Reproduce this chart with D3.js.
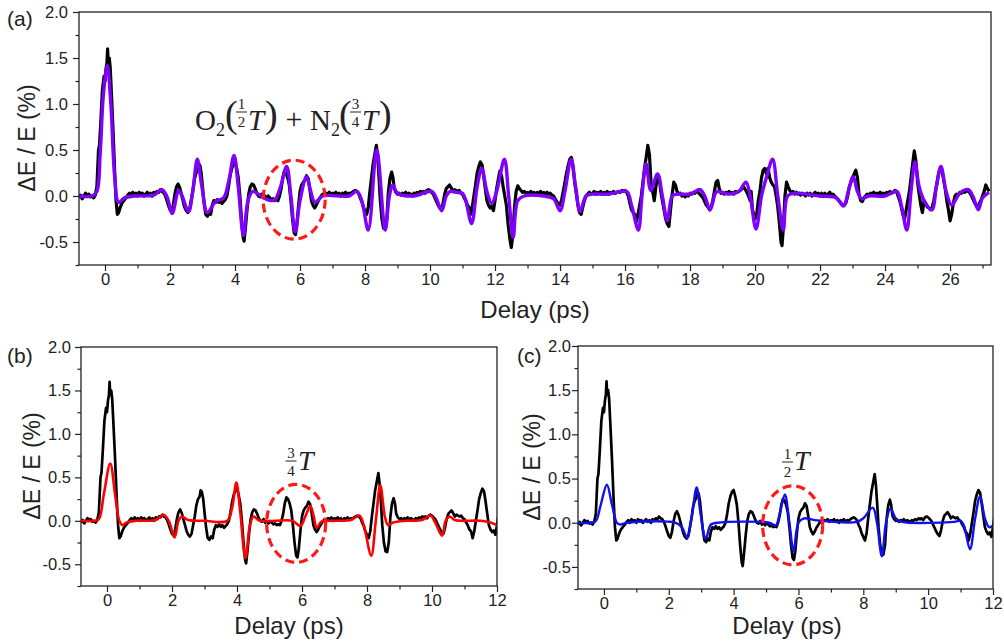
<!DOCTYPE html>
<html><head><meta charset="utf-8">
<script src="https://cdn.jsdelivr.net/npm/d3@7"></script>
<style>body{margin:0;background:#fff}svg{display:block}</style>
</head><body>
<svg id="chart" width="1004" height="642"></svg>
<script>
// ---------------- DATA ----------------
const yMajorTicks = [-0.5, 0, 0.5, 1.0, 1.5, 2.0];
const yTickLabels = ["-0.5", "0.0", "0.5", "1.0", "1.5", "2.0"];
const yMinorTicks = [-0.75, -0.25, 0.25, 0.75, 1.25, 1.75];
const xMajorTicksA = [0, 2, 4, 6, 8, 10, 12, 14, 16, 18, 20, 22, 24, 26];
const xMinorTicksA = [1, 3, 5, 7, 9, 11, 13, 15, 17, 19, 21, 23, 25, 27];
const xMajorTicksBC = [0, 2, 4, 6, 8, 10, 12];
const xMinorTicksBC = [1, 3, 5, 7, 9, 11];
const panelLabels = ["(a)", "(b)", "(c)"];
const xTitle = "Delay (ps)";
const yTitle = "\u0394E / E (%)";

// measured signal (black)
const experiment = [
[-0.8,-0.02],[-0.75,0.01],[-0.7,-0.03],[-0.65,0.0],[-0.6,0.03],[-0.55,0.01],[-0.5,0.02],[-0.45,-0.01],[-0.4,0.0],[-0.35,-0.02],[-0.3,0.01],
[-0.25,0.1],[-0.2,0.5],[-0.17,0.55],[-0.13,0.8],[-0.08,1.15],[-0.03,1.3],[0.0,1.25],[0.03,1.38],[0.06,1.45],[0.08,1.6],[0.1,1.45],[0.13,1.5],[0.16,1.4],[0.2,1.1],[0.25,0.7],[0.3,0.25],[0.34,-0.05],[0.38,-0.2],[0.42,-0.18],[0.47,-0.12],[0.52,-0.08],[0.58,-0.05],[0.65,-0.02],
[0.7,0.01],[0.75,0.03],[0.8,0.0],[0.85,0.04],[0.9,0.02],[0.95,0.03],[1.0,0.0],[1.05,0.04],[1.1,0.02],[1.15,0.03],[1.2,0.0],[1.25,0.02],[1.3,0.04],[1.35,0.01],[1.4,0.03],[1.45,0.0],[1.5,0.04],[1.55,0.02],[1.6,0.05],[1.65,0.04],[1.7,0.07],[1.75,0.05],[1.8,0.04],[1.85,0.01],
[1.9,-0.04],[1.95,-0.1],[2.0,-0.15],[2.05,-0.17],[2.1,-0.1],[2.15,0.02],[2.2,0.1],[2.25,0.13],[2.3,0.09],[2.35,0.02],[2.4,-0.05],[2.45,-0.12],[2.5,-0.16],[2.55,-0.18],[2.6,-0.15],[2.65,-0.05],[2.7,0.05],[2.75,0.18],[2.8,0.25],[2.85,0.28],[2.88,0.35],[2.92,0.33],[2.96,0.25],[3.0,0.1],[3.05,-0.08],[3.1,-0.2],[3.15,-0.22],[3.2,-0.18],[3.25,-0.2],[3.3,-0.1],[3.35,-0.05],[3.4,-0.07],[3.45,-0.04],[3.5,-0.07],[3.55,-0.05],[3.6,-0.08],[3.65,-0.06],[3.7,-0.04],[3.75,0.0],
[3.8,0.1],[3.85,0.22],[3.9,0.3],[3.95,0.35],[4.0,0.37],[4.05,0.3],[4.1,0.2],[4.15,0.0],[4.2,-0.25],[4.25,-0.45],[4.28,-0.49],[4.32,-0.35],[4.37,-0.15],[4.42,0.02],[4.47,0.1],[4.52,0.13],[4.57,0.12],[4.62,0.08],[4.67,0.03],[4.72,0.0],[4.77,-0.01],[4.82,0.02],[4.87,-0.02],[4.92,0.0],[4.97,-0.03],[5.02,0.0],[5.07,-0.02],[5.12,-0.04],[5.17,-0.03],[5.22,-0.05],[5.27,-0.04],[5.32,-0.05],
[5.37,0.0],[5.42,0.08],[5.47,0.2],[5.52,0.27],[5.57,0.25],[5.62,0.2],[5.67,0.12],[5.72,-0.05],[5.77,-0.25],[5.82,-0.4],[5.86,-0.42],[5.9,-0.33],[5.95,-0.12],[6.0,0.05],[6.05,0.12],[6.1,0.15],[6.15,0.17],[6.2,0.22],[6.25,0.19],[6.3,0.08],[6.35,-0.05],[6.4,-0.1],[6.45,-0.13],[6.5,-0.1],[6.55,-0.06],[6.6,-0.03],[6.65,0.0],
[6.7,0.02],[6.75,0.01],[6.8,0.03],[6.85,0.02],[6.9,0.04],[6.95,0.01],[7.0,0.03],[7.05,0.02],[7.1,0.04],[7.15,0.01],[7.2,0.03],[7.25,0.0],[7.3,0.03],[7.35,0.02],[7.4,0.04],[7.45,0.01],[7.5,0.03],[7.55,0.02],[7.6,0.04],[7.65,0.05],[7.7,0.06],[7.75,0.05],[7.8,0.03],
[7.85,-0.02],[7.9,-0.06],[7.95,-0.12],[8.0,-0.16],[8.05,-0.2],[8.1,-0.12],[8.15,0.05],[8.2,0.2],[8.25,0.35],[8.3,0.45],[8.35,0.55],[8.39,0.42],[8.43,0.2],[8.47,-0.05],[8.52,-0.25],[8.57,-0.35],[8.62,-0.36],[8.67,-0.25],[8.72,0.05],[8.77,0.2],[8.82,0.26],[8.86,0.2],[8.9,0.08],[8.95,0.04],
[9.0,0.02],[9.05,0.03],[9.1,0.01],[9.15,0.03],[9.2,0.02],[9.25,0.04],[9.3,0.01],[9.35,0.03],[9.4,0.02],[9.45,0.0],[9.5,0.03],[9.55,0.02],[9.6,0.04],[9.65,0.03],[9.7,0.05],[9.75,0.04],[9.8,0.05],[9.85,0.03],[9.9,0.06],[9.95,0.07],[10.0,0.06],[10.05,0.04],[10.1,0.02],
[10.15,-0.02],[10.2,-0.06],[10.25,-0.1],[10.3,-0.13],[10.35,-0.15],[10.4,-0.08],[10.45,0.02],[10.5,0.08],[10.55,0.1],[10.6,0.12],[10.65,0.09],[10.7,0.05],[10.75,0.07],[10.8,0.06],[10.85,0.05],[10.9,0.06],[10.95,0.03],[11.0,0.02],
[11.05,-0.02],[11.1,-0.05],[11.15,-0.1],[11.2,-0.12],[11.25,-0.2],[11.3,-0.12],[11.35,0.0],[11.4,0.12],[11.45,0.25],[11.5,0.32],[11.55,0.37],[11.6,0.34],[11.65,0.22],[11.7,0.08],[11.75,-0.05],[11.8,-0.1],[11.85,-0.13],[11.9,-0.11],[11.95,-0.16],
[12.0,-0.05],[12.05,0.08],[12.1,0.18],[12.15,0.27],[12.2,0.22],[12.25,0.1],[12.3,0.0],[12.35,-0.1],[12.4,-0.3],[12.45,-0.45],[12.5,-0.56],[12.55,-0.42],[12.6,-0.12],[12.65,0.05],[12.7,0.11],[12.75,0.08],[12.8,0.06],[12.85,0.04],[12.9,0.05],[12.95,0.03],
[13.0,0.04],[13.05,0.02],[13.1,0.05],[13.15,0.03],[13.2,0.04],[13.25,0.01],[13.3,0.04],[13.35,0.02],[13.4,0.05],[13.45,0.03],[13.5,0.04],[13.55,0.02],[13.6,0.04],[13.65,0.02],[13.7,0.03],[13.75,0.01],
[13.8,0.0],[13.85,-0.03],[13.9,-0.06],[13.95,-0.09],[14.0,-0.1],[14.05,-0.04],[14.1,0.05],[14.15,0.15],[14.2,0.25],[14.25,0.33],[14.3,0.4],[14.35,0.42],[14.4,0.32],[14.45,0.15],[14.5,0.03],[14.55,-0.1],[14.6,-0.18],[14.65,-0.2],[14.7,-0.12],[14.75,-0.05],[14.8,0.0],
[14.85,0.02],[14.9,0.04],[14.95,0.02],[15.0,0.03],[15.05,0.05],[15.1,0.02],[15.15,0.04],[15.2,0.03],[15.25,0.05],[15.3,0.02],[15.35,0.04],[15.4,0.03],[15.45,0.05],[15.5,0.02],[15.55,0.04],[15.6,0.03],[15.65,0.05],[15.7,0.03],[15.75,0.04],[15.8,0.05],[15.85,0.04],[15.9,0.06],[15.95,0.05],[16.0,0.06],[16.05,0.04],
[16.1,0.0],[16.15,-0.08],[16.2,-0.15],[16.25,-0.18],[16.3,-0.2],[16.35,-0.28],[16.4,-0.2],[16.45,-0.1],[16.5,0.0],[16.55,0.15],[16.6,0.3],[16.65,0.42],[16.7,0.55],[16.75,0.45],[16.8,0.15],[16.85,0.05],[16.9,-0.05],[16.95,0.1],[17.0,0.22],[17.05,0.2],[17.1,0.05],[17.15,-0.05],[17.2,-0.15],[17.25,-0.25],[17.3,-0.3],[17.35,-0.33],[17.4,-0.15],[17.45,0.02],[17.5,0.15],[17.55,0.12],[17.6,0.05],
[17.65,0.02],[17.7,0.03],[17.75,0.0],[17.8,0.02],[17.85,-0.01],[17.9,0.02],[17.95,0.0],[18.0,0.03],[18.05,0.02],[18.1,0.04],[18.15,0.03],[18.2,0.05],[18.25,0.04],[18.3,0.02],[18.35,0.0],
[18.4,-0.02],[18.45,-0.06],[18.5,-0.1],[18.55,-0.12],[18.6,-0.15],[18.65,-0.12],[18.7,-0.05],[18.75,0.05],[18.8,0.15],[18.85,0.17],[18.9,0.08],[18.95,0.03],
[19.0,0.04],[19.05,0.02],[19.1,0.04],[19.15,0.03],[19.2,0.05],[19.25,0.03],[19.3,0.04],[19.35,0.02],[19.4,0.05],[19.45,0.04],[19.5,0.05],[19.55,0.06],[19.6,0.08],[19.65,0.1],[19.7,0.07],[19.75,0.04],
[19.8,0.0],[19.85,-0.05],[19.88,0.05],[19.92,-0.15],[19.96,-0.2],[20.0,-0.25],[20.05,-0.2],[20.1,-0.05],[20.15,0.05],[20.2,0.2],[20.25,0.28],[20.3,0.3],[20.35,0.24],[20.4,0.3],[20.45,0.2],[20.5,0.15],[20.55,0.12],[20.6,0.1],[20.65,0.0],[20.7,-0.12],[20.75,-0.3],[20.8,-0.5],[20.83,-0.54],[20.87,-0.35],[20.92,0.0],[20.97,0.15],[21.02,0.1],[21.07,0.06],
[21.12,0.04],[21.17,0.05],[21.22,0.02],[21.27,0.04],[21.32,0.02],[21.37,0.03],[21.4,0.01],[21.45,0.03],[21.5,0.02],[21.55,0.0],[21.6,0.03],[21.65,0.01],[21.7,0.03],[21.75,0.0],[21.8,0.02],[21.85,0.04],[21.9,0.01],[21.95,0.03],[22.0,0.0],[22.05,0.03],[22.1,0.01],[22.15,0.03],[22.2,0.0],[22.25,0.02],[22.3,0.04],[22.35,0.01],[22.4,0.02],[22.45,0.0],
[22.5,-0.02],[22.55,-0.04],[22.6,-0.06],[22.65,-0.08],[22.7,-0.1],[22.75,-0.1],[22.8,-0.07],[22.85,0.0],[22.9,0.1],[22.95,0.15],[23.0,0.2],[23.05,0.24],[23.1,0.28],[23.15,0.2],[23.2,0.02],[23.25,-0.05],[23.3,-0.06],[23.35,-0.02],
[23.4,0.0],[23.45,0.02],[23.5,0.01],[23.55,0.03],[23.6,0.02],[23.65,0.04],[23.7,0.01],[23.75,0.03],[23.8,0.02],[23.85,0.04],[23.9,0.02],[23.95,0.03],[24.0,0.01],[24.05,0.04],[24.1,0.03],[24.15,0.05],[24.2,0.03],[24.25,0.04],[24.3,0.06],[24.35,0.05],
[24.4,0.0],[24.45,-0.05],[24.5,-0.12],[24.55,-0.2],[24.6,-0.25],[24.65,-0.15],[24.7,-0.05],[24.75,0.05],[24.8,0.2],[24.85,0.35],[24.9,0.49],[24.95,0.38],[25.0,0.15],[25.05,0.02],[25.1,-0.1],[25.15,-0.18],[25.2,-0.05],[25.25,-0.08],[25.3,-0.12],[25.35,-0.13],[25.4,-0.15],[25.45,-0.12],[25.5,-0.05],
[25.55,0.05],[25.6,0.15],[25.65,0.25],[25.7,0.3],[25.75,0.28],[25.8,0.18],[25.85,0.08],[25.9,-0.05],[25.95,-0.15],[26.0,-0.27],[26.05,-0.2],[26.1,-0.08],[26.15,0.0],[26.2,0.02],[26.25,0.01],[26.3,0.04],[26.35,0.03],[26.4,0.05],[26.45,0.04],[26.5,0.06],[26.55,0.05],[26.6,0.04],[26.65,0.01],
[26.7,-0.03],[26.75,-0.07],[26.8,-0.1],[26.85,-0.12],[26.9,-0.08],[26.95,-0.05],[27.0,0.0],[27.05,0.05],[27.1,0.12],[27.15,0.08],[27.2,0.05]
];

// O2(1/2 T) + N2(3/4 T) fit (purple)
const fitCombined = [
[-0.8,0],[-0.4,0],[-0.25,0.05],[-0.15,0.45],[-0.05,1.1],[0.07,1.42],[0.18,1.0],[0.3,0.2],[0.42,-0.07],[0.6,-0.02],[0.9,0.0],[1.5,0.01],[1.75,0.07],[1.9,0.0],[2.07,-0.19],[2.26,0.06],[2.35,0.02],[2.57,-0.17],[2.7,0.05],[2.84,0.40],[2.98,0.1],[3.15,-0.18],[3.4,-0.06],[3.65,-0.02],[3.8,0.15],[3.97,0.44],[4.1,0.1],[4.26,-0.43],[4.4,-0.05],[4.55,0.05],[4.8,0.0],[5.1,-0.05],[5.23,-0.04],[5.4,0.1],[5.59,0.32],[5.72,0.0],[5.85,-0.39],[6.0,-0.05],[6.2,0.21],[6.33,0.05],[6.46,-0.07],[6.7,0.0],[7.5,0.0],[7.75,0.05],[7.9,-0.05],[8.1,-0.37],[8.36,0.5],[8.62,-0.37],[8.75,0.0],[8.85,0.12],[9.0,0.03],[9.5,0.0],[10.05,0.05],[10.2,-0.03],[10.36,-0.16],[10.5,0.0],[10.62,0.05],[10.8,0.04],[11.0,0.03],[11.1,-0.05],[11.28,-0.3],[11.45,0.1],[11.59,0.3],[11.75,0.05],[11.9,-0.08],[12.05,0.05],[12.29,0.4],[12.42,0.0],[12.56,-0.45],[12.7,-0.05],[12.9,0.0],[13.5,0.0],[13.8,-0.03],[14.0,-0.16],[14.15,0.05],[14.34,0.4],[14.48,0.1],[14.62,-0.17],[14.8,0.0],[15.0,0.02],[15.5,0.02],[16.05,0.05],[16.2,-0.1],[16.41,-0.37],[16.52,0.0],[16.65,0.35],[16.79,0.06],[17.0,0.24],[17.15,0.0],[17.3,-0.27],[17.45,0.0],[17.6,0.02],[18.0,0.02],[18.31,0.07],[18.45,0.0],[18.62,-0.15],[18.78,0.03],[18.85,0.05],[19.2,0.02],[19.5,0.05],[19.72,0.15],[19.85,0.0],[20.03,-0.36],[20.2,0.0],[20.35,0.2],[20.54,0.4],[20.7,0.0],[20.87,-0.37],[21.0,0.0],[21.2,0.03],[22.0,0.0],[22.5,-0.02],[22.72,-0.11],[22.87,0.05],[23.02,0.21],[23.15,0.05],[23.28,-0.03],[23.5,0.0],[24.0,0.0],[24.36,0.05],[24.5,-0.1],[24.67,-0.37],[24.8,0.05],[24.92,0.37],[25.05,0.1],[25.2,-0.05],[25.44,-0.15],[25.58,0.1],[25.72,0.32],[25.88,0.05],[26.05,-0.1],[26.3,0.03],[26.56,0.07],[26.7,0.0],[26.87,-0.15],[27.0,-0.02],[27.2,0.04]
];

// N2 (3/4 T) fit (red)
const fitN2 = [
[-0.8,0.0],[-0.4,0.0],[-0.25,0.02],[-0.1,0.3],[0.1,0.66],[0.25,0.3],[0.38,0.0],[0.48,-0.05],[0.6,-0.02],[0.9,0.0],[1.5,0.01],[1.74,0.07],[1.9,0.0],[2.08,-0.19],[2.2,0.0],[2.3,0.05],[2.5,0.01],[3.0,0.0],[3.7,0.0],[3.85,0.15],[3.98,0.44],[4.1,0.1],[4.26,-0.43],[4.4,-0.05],[4.51,0.05],[4.7,0.0],[5.7,0.0],[5.95,-0.06],[6.1,0.05],[6.26,0.17],[6.36,0.05],[6.45,-0.08],[6.6,-0.01],[7.0,0.0],[7.5,0.01],[7.77,0.06],[7.9,-0.05],[8.13,-0.4],[8.27,0.0],[8.41,0.41],[8.55,0.05],[8.65,-0.05],[8.8,-0.02],[9.2,0.0],[9.7,0.01],[9.95,0.06],[10.1,-0.02],[10.31,-0.17],[10.42,0.0],[10.54,0.05],[10.7,0.01],[11.5,0.0],[11.8,-0.02],[12.0,-0.05]
];

// O2 (1/2 T) fit (blue)
const fitO2 = [
[-0.8,0.0],[-0.4,0.0],[-0.25,0.02],[-0.1,0.2],[0.09,0.43],[0.25,0.2],[0.4,0.0],[0.5,-0.02],[0.7,0.0],[2.2,0.0],[2.4,-0.05],[2.57,-0.17],[2.7,0.05],[2.86,0.4],[2.98,0.1],[3.14,-0.18],[3.3,-0.02],[3.5,0.0],[5.1,0.0],[5.3,-0.03],[5.42,0.1],[5.58,0.32],[5.72,0.0],[5.85,-0.32],[6.0,0.0],[6.18,0.05],[6.5,0.03],[7.8,0.01],[8.0,0.05],[8.29,0.17],[8.42,0.0],[8.57,-0.38],[8.7,0.0],[8.84,0.16],[9.0,0.05],[9.2,0.01],[10.8,0.01],[11.0,0.02],[11.1,-0.03],[11.29,-0.3],[11.45,0.05],[11.6,0.3],[11.75,0.05],[11.88,-0.05],[12.0,-0.03]
];

// ---------------- DRAW ----------------
const svg = d3.select("#chart");
const FONT = "'Liberation Sans', Arial, sans-serif";
const SERIF = "'Liberation Serif', 'DejaVu Serif', serif";

function drawPanel(o) {
  const x = d3.scaleLinear().domain(o.xDomain).range([o.left, o.right]);
  const y = d3.scaleLinear().domain([-0.75, 2.0]).range([o.bottom, o.top]);
  const g = svg.append("g");
  const clipId = "clip" + o.id;
  svg.append("clipPath").attr("id", clipId).append("rect")
    .attr("x", o.left).attr("y", o.top).attr("width", o.right - o.left).attr("height", o.bottom - o.top);

  const styleAxis = sel => {
    sel.select(".domain").remove();
    sel.selectAll("line").attr("stroke", "#222").attr("stroke-width", 1.2);
    sel.selectAll("text").attr("font-family", FONT).attr("font-size", 16.5).attr("fill", "#222");
  };
  g.append("g").attr("transform", `translate(0,${o.bottom})`)
    .call(d3.axisBottom(x).tickValues(o.xMajor).tickSize(6).tickPadding(2).tickFormat(d3.format("d"))).call(styleAxis);
  g.append("g").attr("transform", `translate(0,${o.bottom})`)
    .call(d3.axisBottom(x).tickValues(o.xMinor).tickSize(3.5).tickFormat("")).call(styleAxis);
  g.append("g").attr("transform", `translate(${o.left},0)`)
    .call(d3.axisLeft(y).tickValues(yMajorTicks).tickSize(6).tickPadding(o.yPad).tickFormat((d, i) => yTickLabels[i])).call(styleAxis);
  g.append("g").attr("transform", `translate(${o.left},0)`)
    .call(d3.axisLeft(y).tickValues(yMinorTicks).tickSize(3.5).tickFormat("")).call(styleAxis);

  const lineLinear = d3.line().x(d => x(d[0])).y(d => y(d[1]));
  const lineSmooth = d3.line().x(d => x(d[0])).y(d => y(d[1])).curve(d3.curveCatmullRom.alpha(0.5));
  const plot = g.append("g").attr("clip-path", `url(#${clipId})`);
  const expVisible = experiment.filter(d => d[0] >= o.xDomain[0] - 0.1 && d[0] <= o.xDomain[1] + 0.1);
  plot.append("path").datum(expVisible).attr("d", lineLinear)
    .attr("fill", "none").attr("stroke", "#000").attr("stroke-width", o.blackWidth).attr("stroke-linejoin", "round");
  plot.append("path").datum(o.fit).attr("d", lineSmooth)
    .attr("fill", "none").attr("stroke", o.fitColor).attr("stroke-width", o.fitWidth).attr("stroke-linejoin", "round");

  g.append("rect").attr("x", o.left).attr("y", o.top).attr("width", o.right - o.left).attr("height", o.bottom - o.top)
    .attr("fill", "none").attr("stroke", "#222").attr("stroke-width", 1.3);

  g.append("ellipse").attr("cx", x(o.ellipse[0])).attr("cy", y(o.ellipse[1]))
    .attr("rx", o.ellipse[2]).attr("ry", o.ellipse[3])
    .attr("fill", "none").attr("stroke", "#ff1a1a").attr("stroke-width", 3.2).attr("stroke-dasharray", "9,5");

  g.append("text").attr("x", o.xTitlePos[0]).attr("y", o.xTitlePos[1]).attr("text-anchor", "middle")
    .attr("font-family", FONT).attr("font-size", 24).attr("fill", "#222").text(xTitle);
  g.append("text").attr("transform", `translate(${o.yTitlePos[0]},${o.yTitlePos[1]}) rotate(-90)`).attr("text-anchor", "middle")
    .attr("font-family", FONT).attr("font-size", 23).attr("fill", "#222").text(yTitle);
  g.append("text").attr("x", o.labelPos[0]).attr("y", o.labelPos[1])
    .attr("font-family", FONT).attr("font-size", 21).attr("fill", "#222").text(o.label);
}

drawPanel({id: "a", left: 79, right: 991, top: 12, bottom: 265, xDomain: [-0.8, 27.26], yPad: 5,
  xMajor: xMajorTicksA, xMinor: xMinorTicksA, fit: fitCombined, fitColor: "#7f00ff", fitWidth: 3.4, blackWidth: 3.2,
  ellipse: [5.82, -0.04, 31, 39.5], xTitlePos: [535, 318], yTitlePos: [35, 138], labelPos: [7, 26], label: panelLabels[0]});
drawPanel({id: "b", left: 81, right: 497, top: 347, bottom: 586, xDomain: [-0.8, 12], yPad: 4,
  xMajor: xMajorTicksBC, xMinor: xMinorTicksBC, fit: fitN2, fitColor: "#ff0000", fitWidth: 2.6, blackWidth: 2.7,
  ellipse: [5.82, -0.03, 29.5, 39], xTitlePos: [289, 634], yTitlePos: [40, 466], labelPos: [7, 363], label: panelLabels[1]});
drawPanel({id: "c", left: 578, right: 993, top: 346, bottom: 589, xDomain: [-0.8, 12], yPad: 1,
  xMajor: xMajorTicksBC, xMinor: xMinorTicksBC, fit: fitO2, fitColor: "#1010f0", fitWidth: 2.4, blackWidth: 2.7,
  ellipse: [5.82, -0.03, 30, 39.5], xTitlePos: [787, 634], yTitlePos: [540, 467], labelPos: [517, 363], label: panelLabels[2]});

// ---- math annotations ----
const ann = svg.append("g").attr("fill", "#222").attr("font-family", SERIF);
function t(xp, yp, size, str, opts = {}) {
  const el = ann.append("text").attr("x", xp).attr("y", yp).attr("font-size", size).text(str);
  if (opts.italic) el.attr("font-style", "italic");
  if (opts.anchor) el.attr("text-anchor", opts.anchor);
  return el;
}
// stacked fraction: numerator above the bar, denominator below, boxes kept apart
function frac(cx, barY, num, den, size, halfW) {
  t(cx, barY - 3.5, size, num, {anchor: "middle"});
  ann.append("line").attr("x1", cx - halfW).attr("x2", cx + halfW).attr("y1", barY).attr("y2", barY)
    .attr("stroke", "#222").attr("stroke-width", 1);
  t(cx, barY + size * 0.97, size, den, {anchor: "middle"});
}
// (a)  O2(1/2 T) + N2(3/4 T)
t(195, 130, 29, "O");
t(216, 136, 18, "2");
t(225, 127, 38, "(");
frac(241.5, 112, "1", "2", 15, 5.5);
t(248, 130, 29, "T", {italic: true});
t(265, 127, 38, ")");
t(294, 129, 30, "+", {anchor: "middle"});
t(310, 130, 29, "N");
t(331, 136, 18, "2");
t(339, 127, 38, "(");
frac(355.5, 112, "3", "4", 15, 5.5);
t(362, 130, 29, "T", {italic: true});
t(379, 127, 38, ")");
// (b) 3/4 T
frac(291, 461, "3", "4", 15, 5.5);
t(298, 470, 28, "T", {italic: true});
// (c) 1/2 T
frac(787.5, 462, "1", "2", 15, 5.5);
t(794, 470, 28, "T", {italic: true});
</script>
</body></html>
